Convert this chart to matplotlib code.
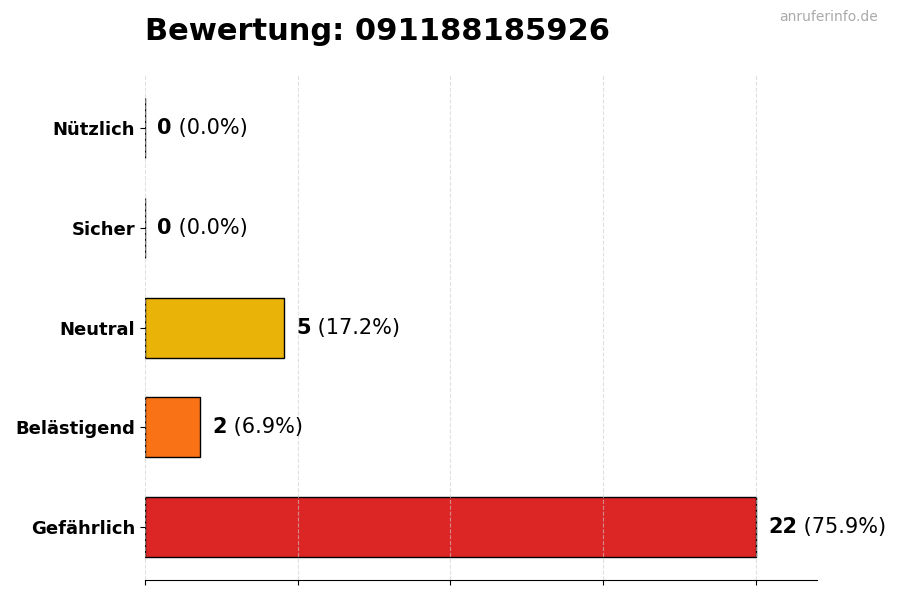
import matplotlib.pyplot as plt

categories = ["Gefährlich", "Belästigend", "Neutral", "Sicher", "Nützlich"]
counts = [22, 2, 5, 0, 0]
percents = [75.9, 6.9, 17.2, 0.0, 0.0]
colors = ["#dc2626", "#f97316", "#eab308", "#22c55e", "#3b82f6"]

fig = plt.figure(figsize=(9, 6), dpi=100)
ax = fig.add_axes([0.161, 0.033, 0.747, 0.842])

ypos = list(range(len(categories)))
ax.barh(ypos, counts, height=0.6, color=colors, edgecolor="black", linewidth=1)

maxval = max(counts)
ax.set_xlim(0, maxval * 1.1)
ax.set_xticks([maxval * i / 4 for i in range(5)])
ax.set_xticklabels([])
ax.set_yticks(ypos)
ax.set_yticklabels(categories, fontsize=13, fontweight="bold")
ax.grid(axis="x", linestyle="--", color="#cccccc", linewidth=0.8, alpha=0.6)
ax.set_axisbelow(False)
for s in ["top", "right", "left"]:
    ax.spines[s].set_visible(False)

# value labels: bold count, then normal percentage
fig.canvas.draw()
renderer = fig.canvas.get_renderer()
for y, c, p in zip(ypos, counts, percents):
    t = ax.text(c + maxval * 0.02, y, str(c), fontsize=15, fontweight="bold",
                va="center", ha="left")
    w = t.get_window_extent(renderer=renderer).width
    ax.annotate(" (%.1f%%)" % p, xy=(c + maxval * 0.02, y), xytext=(w * 72 / fig.dpi, 0),
                textcoords="offset points", fontsize=15, va="center", ha="left")

fig.text(0.161, 0.948, "Bewertung: 091188185926", fontsize=22, fontweight="bold",
         ha="left", va="center")
fig.text(0.975, 0.971, "anruferinfo.de", fontsize=10, color="#aaaaaa",
         ha="right", va="center")

fig.savefig("out.png", dpi=100)
